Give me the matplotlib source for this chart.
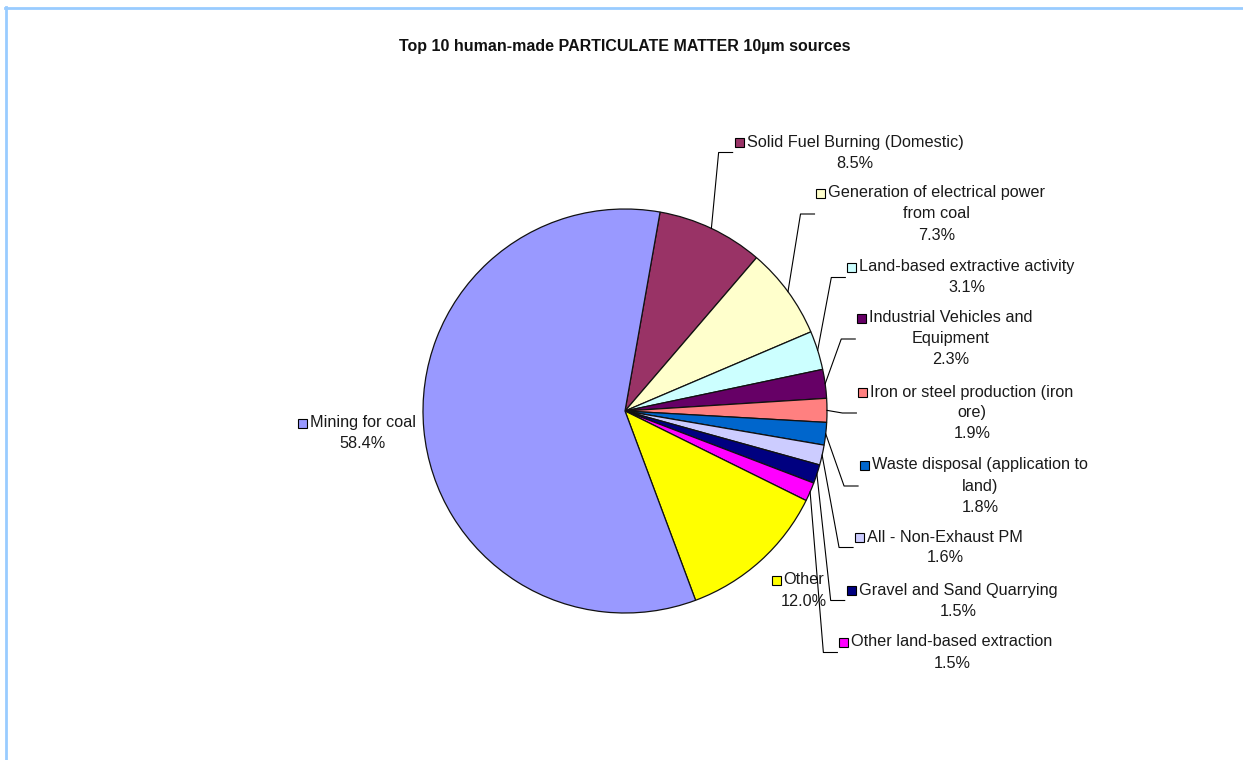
import matplotlib
matplotlib.use("Agg")
import matplotlib.pyplot as plt
from matplotlib.patches import Rectangle
import numpy as np

plt.rcParams['font.family'] = ['Liberation Sans', 'DejaVu Sans']

title = "Top 10 human-made PARTICULATE MATTER 10µm sources"

sources = [
    "Solid Fuel Burning (Domestic)",
    "Generation of electrical power\nfrom coal",
    "Land-based extractive activity",
    "Industrial Vehicles and\nEquipment",
    "Iron or steel production (iron\nore)",
    "Waste disposal (application to\nland)",
    "All - Non-Exhaust PM",
    "Gravel and Sand Quarrying",
    "Other land-based extraction",
    "Other",
    "Mining for coal",
]
shares = [8.5, 7.3, 3.1, 2.3, 1.9, 1.8, 1.6, 1.5, 1.5, 12.0, 58.4]
colors = ['#993366', '#FFFFCC', '#CCFFFF', '#660066', '#FF8080', '#0066CC',
          '#CCCCFF', '#000080', '#FF00FF', '#FFFF00', '#9999FF']

# where each label block sits (pixels): centre x, first line y
label_x = [855, 937, 967, 951, 972, 980, 945, 958, 952, 804, 363]
label_y = [142, 193, 267, 318, 392, 465, 537, 590, 642, 580, 423]
has_leader = [True] * 9 + [False, False]

W, H = 1243, 760
fig = plt.figure(figsize=(W / 100, H / 100), dpi=100)
ax = fig.add_axes([0, 0, 1, 1])

cx, cy, r = 625, 411, 202
start = 10  # first slice starts 10 deg clockwise of 12 o'clock

# y axis runs downwards, so counterclock=True turns clockwise on screen
wedges, _ = ax.pie(shares, colors=colors, startangle=start - 90,
                   counterclock=True, radius=r, center=(cx, cy),
                   wedgeprops=dict(edgecolor='#111111', linewidth=0.9))
ax.set_xlim(0, W)
ax.set_ylim(H, 0)
ax.set_aspect('auto')
ax.axis('off')

ax.text(cx, 47, title, ha='center', va='center', fontsize=11.5,
        fontweight='bold', color='#111111')

fs = 11.7
line_h = 21
first_lines = []
for i, name in enumerate(sources):
    lines = name.split('\n') + ["%.1f%%" % shares[i]]
    for k, ln in enumerate(lines):
        t = ax.text(label_x[i], label_y[i] + k * line_h, ln, ha='center',
                    va='center', fontsize=fs, color='#1a1a1a')
        if k == 0:
            first_lines.append((t, len(lines)))

fig.canvas.draw()
renderer = fig.canvas.get_renderer()
inv = ax.transData.inverted()

for i, (t, n) in enumerate(first_lines):
    bb = t.get_window_extent(renderer)
    left = inv.transform((bb.x0, bb.y0))[0]
    y1 = label_y[i]
    sq = 9
    sq_left = left - 3 - sq
    ax.add_patch(Rectangle((sq_left, y1 - sq / 2), sq, sq,
                           facecolor=colors[i], edgecolor='black',
                           linewidth=0.8, zorder=5))
    if has_leader[i]:
        w = wedges[i]
        mid = np.deg2rad((w.theta1 + w.theta2) / 2)
        x0 = cx + r * np.cos(mid)
        y0 = cy + r * np.sin(mid)
        ym = y1 + (n - 1) * line_h / 2
        xe = sq_left - 2
        ax.plot([x0, xe - 14, xe], [y0, ym, ym], color='black',
                linewidth=0.8, zorder=4)

# light blue frame on the top and left
ax.plot([5, W], [7.5, 7.5], color='#99CCFF', linewidth=2, clip_on=False)
ax.plot([6, 6], [7, H], color='#99CCFF', linewidth=2, clip_on=False)

fig.savefig("out.png", dpi=100)
